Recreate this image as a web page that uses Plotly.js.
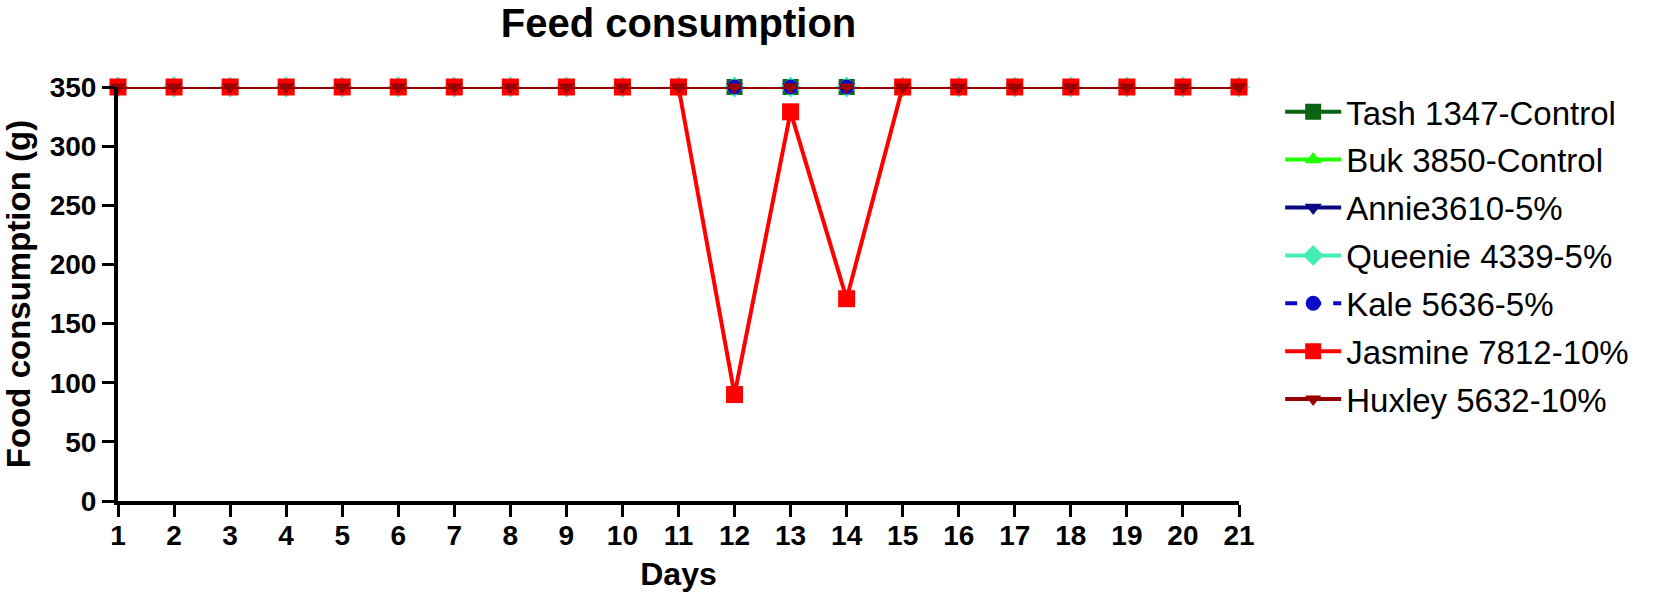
<!DOCTYPE html>
<html>
<head>
<meta charset="utf-8">
<script src="https://cdn.plot.ly/plotly-3.0.1.min.js"></script>
<style>
  html, body { margin: 0; padding: 0; background: #fff; }
  #chart { width: 1654px; height: 607px; }
</style>
</head>
<body>
<div id="chart"></div>
<script>
const days = [1, 2, 3, 4, 5, 6, 7, 8, 9, 10, 11, 12, 13, 14, 15, 16, 17, 18, 19, 20, 21];

const tash = [350, 350, 350, 350, 350, 350, 350, 350, 350, 350, 350, 350, 350, 350, 350, 350, 350, 350, 350, 350, 350];
const buk = [350, 350, 350, 350, 350, 350, 350, 350, 350, 350, 350, 350, 350, 350, 350, 350, 350, 350, 350, 350, 350];
const annie = [350, 350, 350, 350, 350, 350, 350, 350, 350, 350, 350, 350, 350, 350, 350, 350, 350, 350, 350, 350, 350];
const queenie = [350, 350, 350, 350, 350, 350, 350, 350, 350, 350, 350, 350, 350, 350, 350, 350, 350, 350, 350, 350, 350];
const kale = [350, 350, 350, 350, 350, 350, 350, 350, 350, 350, 350, 350, 350, 350, 350, 350, 350, 350, 350, 350, 350];
const jasmine = [350, 350, 350, 350, 350, 350, 350, 350, 350, 350, 350, 90, 329, 171, 350, 350, 350, 350, 350, 350, 350];
const huxley = [350, 350, 350, 350, 350, 350, 350, 350, 350, 350, 350, 350, 350, 350, 350, 350, 350, 350, 350, 350, 350];

const yTicks = [0, 50, 100, 150, 200, 250, 300, 350];

const seriesArr = [
  { name: 'Tash 1347-Control', y: tash, color: '#0b6413', symbol: 'square', size: 16, dash: 'solid' },
  { name: 'Buk 3850-Control', y: buk, color: '#22ff00', symbol: 'triangle-up', size: 15, dash: 'solid' },
  { name: 'Annie3610-5%', y: annie, color: '#0a0a80', symbol: 'triangle-down', size: 15, dash: 'solid' },
  { name: 'Queenie 4339-5%', y: queenie, color: '#44eeb0', symbol: 'diamond', size: 16, dash: 'solid' },
  { name: 'Kale 5636-5%', y: kale, color: '#0a0ac8', symbol: 'circle', size: 15, dash: 'dash' },
  { name: 'Jasmine 7812-10%', y: jasmine, color: '#ff0000', symbol: 'square', size: 17, dash: 'solid' },
  { name: 'Huxley 5632-10%', y: huxley, color: '#990000', symbol: 'triangle-down', size: 14, dash: 'solid' },
];

const font = 'Arial, "Liberation Sans", sans-serif';

const traces = seriesArr.map((s) => ({
  x: days,
  y: s.y,
  name: s.name,
  legendgroup: s.name,
  type: 'scatter',
  mode: 'lines+markers',
  cliponaxis: false,
  line: { color: s.color, width: 4, dash: s.dash },
  marker: { color: s.color, symbol: s.symbol, size: s.size, line: { width: 0 } },
}));

const layout = {
  width: 1654,
  height: 607,
  paper_bgcolor: '#fff',
  plot_bgcolor: '#fff',
  margin: { l: 118, r: 415, t: 87, b: 106 },
  font: { family: font, color: '#000' },
  title: {
    text: '<b>Feed consumption</b>',
    font: { family: font, size: 40, color: '#000' },
    x: 0.5,
    xref: 'paper',
    y: 0.962,
    yref: 'container',
    yanchor: 'middle',
  },
  xaxis: {
    range: [1, 21],
    tickvals: days,
    ticktext: days.map(String),
    showgrid: false,
    zeroline: false,
    showline: true,
    linecolor: '#000',
    linewidth: 4,
    ticks: 'outside',
    ticklen: 12,
    tickwidth: 3,
    tickcolor: '#000',
    ticklabelstandoff: -6,
    tickfont: { family: font, size: 28, color: '#000', weight: 'bold' },
    title: { text: '<b>Days</b>', font: { family: font, size: 32, color: '#000' }, standoff: 14 },
  },
  yaxis: {
    range: [0, 350],
    tickvals: yTicks,
    showgrid: false,
    zeroline: false,
    showline: true,
    linecolor: '#000',
    linewidth: 4,
    ticks: 'outside',
    ticklen: 12,
    tickwidth: 3,
    tickcolor: '#000',
    tickfont: { family: font, size: 28, color: '#000', weight: 'bold' },
    title: { text: '<b>Food consumption (g)</b>', font: { family: font, size: 33, color: '#000' }, standoff: 12 },
  },
  legend: {
    xref: 'container',
    yref: 'container',
    x: 0.774,
    y: 0.862,
    xanchor: 'left',
    yanchor: 'top',
    maxheight: 480,
    traceorder: 'grouped',
    tracegroupgap: 2,
    itemwidth: 56,
    font: { family: font, size: 33, color: '#000' },
    bgcolor: 'rgba(0,0,0,0)',
  },
  showlegend: true,
};

const config = { displayModeBar: false, responsive: false };

Plotly.newPlot('chart', traces, layout, config);
</script>
</body>
</html>
